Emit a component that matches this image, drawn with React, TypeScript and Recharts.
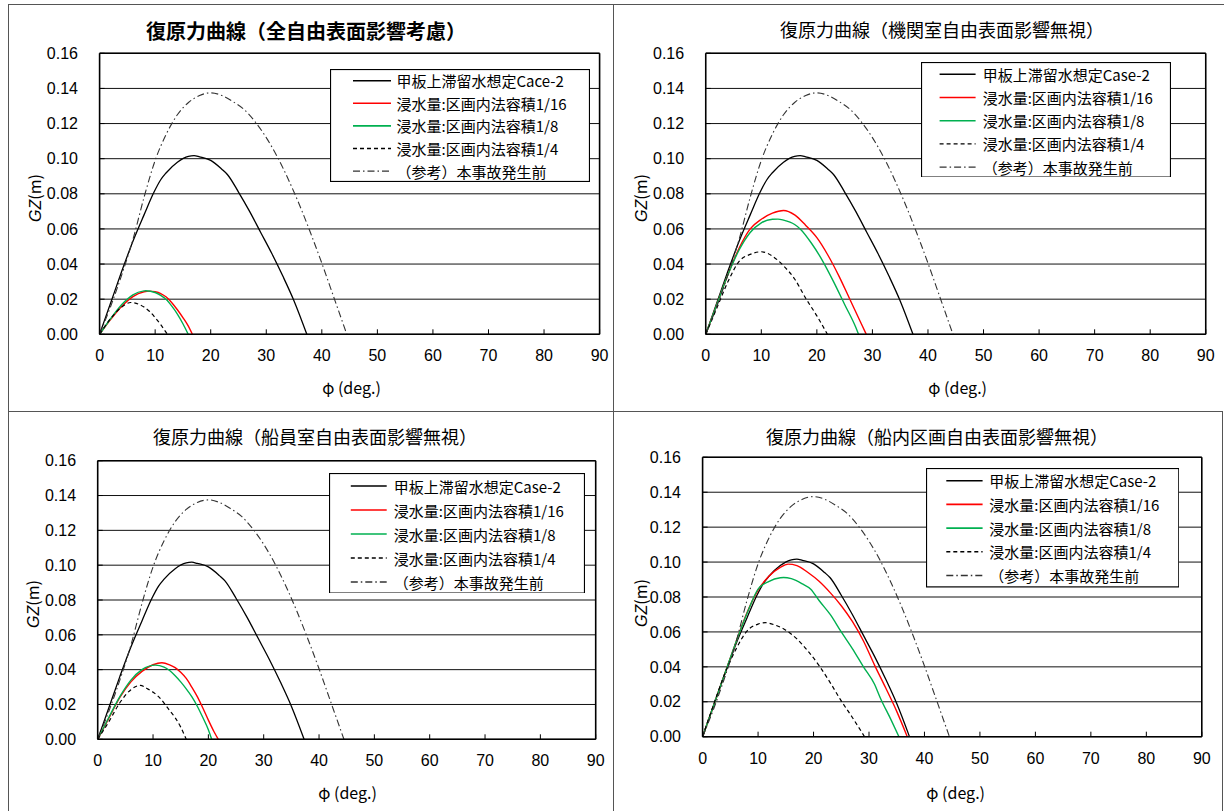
import React from 'react';
import { LineChart, Line, XAxis, YAxis, CartesianGrid, Legend, ReferenceLine } from 'recharts';

// ---------- axis ticks ----------
const xTicks = [0, 10, 20, 30, 40, 50, 60, 70, 80, 90];
const yTicks = [0, 0.02, 0.04, 0.06, 0.08, 0.1, 0.12, 0.14, 0.16];

// ---------- titles & legend labels ----------
const titles = [
  '復原力曲線（全自由表面影響考慮）',
  '復原力曲線（機関室自由表面影響無視）',
  '復原力曲線（船員室自由表面影響無視）',
  '復原力曲線（船内区画自由表面影響無視）',
];
const legendLabelsFirst = ['甲板上滞留水想定Cace-2', '浸水量:区画内法容積1/16', '浸水量:区画内法容積1/8', '浸水量:区画内法容積1/4', '（参考）本事故発生前'];
const legendLabelsOther = ['甲板上滞留水想定Case-2', '浸水量:区画内法容積1/16', '浸水量:区画内法容積1/8', '浸水量:区画内法容積1/4', '（参考）本事故発生前'];

// ---------- common series ----------
const case2Phi = [0, 2, 4, 6, 8, 9.8, 11, 12, 14, 16, 17, 18, 20, 22, 23, 25, 27, 29, 31, 33, 35, 37.3];
const case2GZ = [0, 0.018, 0.036, 0.053, 0.068, 0.081, 0.088, 0.092, 0.098, 0.1013, 0.1017, 0.101, 0.099, 0.094, 0.091, 0.081, 0.07, 0.058, 0.046, 0.033, 0.019, 0];

const refPhi = [0, 2, 4, 6, 8, 10, 12, 14, 16, 18, 20, 22, 24, 26, 28, 30, 32, 34, 36, 38, 40, 42, 43, 44.5];
const refGZ = [0, 0.016, 0.034, 0.054, 0.078, 0.099, 0.114, 0.125, 0.132, 0.136, 0.1375, 0.136, 0.1325, 0.128, 0.121, 0.112, 0.101, 0.088, 0.0735, 0.0575, 0.0405, 0.0225, 0.0135, 0];

// ---------- panel 1: 全自由表面影響考慮 ----------
const p1R16Phi = [0, 2, 4, 6, 8, 9, 10, 11, 12, 13, 14, 15, 16, 16.7];
const p1R16GZ = [0, 0.0085, 0.016, 0.0215, 0.0242, 0.0246, 0.0242, 0.0232, 0.0212, 0.018, 0.014, 0.0095, 0.0045, 0];
const p1G8Phi = [0, 2, 4, 6, 8, 8.3, 10, 11, 12, 13, 14, 15, 15.95];
const p1G8GZ = [0, 0.009, 0.017, 0.0225, 0.0247, 0.0248, 0.0238, 0.0222, 0.0198, 0.016, 0.0115, 0.006, 0];
const p1D4Phi = [0, 2, 4, 5.6, 7, 8, 9, 10, 11, 12.2];
const p1D4GZ = [0, 0.009, 0.0155, 0.0181, 0.0172, 0.0155, 0.013, 0.0095, 0.0055, 0];

// ---------- panel 2: 機関室自由表面影響無視 ----------
const p2R16Phi = [0, 2, 4, 6, 8, 10, 12, 14, 16, 18, 20, 22, 24, 26, 28, 28.9];
const p2R16GZ = [0, 0.017, 0.034, 0.049, 0.06, 0.0655, 0.069, 0.0705, 0.068, 0.062, 0.055, 0.045, 0.033, 0.0195, 0.006, 0];
const p2G8Phi = [0, 2, 4, 6, 8, 10, 12, 13, 14, 16, 17, 19, 21, 23, 25, 27, 27.5];
const p2G8GZ = [0, 0.017, 0.034, 0.048, 0.058, 0.0635, 0.0655, 0.0656, 0.065, 0.0625, 0.06, 0.052, 0.042, 0.03, 0.017, 0.004, 0];
const p2D4Phi = [0, 2, 4, 6, 8, 10, 12, 14, 16, 18, 20, 21.9];
const p2D4GZ = [0, 0.015, 0.03, 0.0415, 0.0455, 0.047, 0.0445, 0.039, 0.0315, 0.0205, 0.0105, 0];

// ---------- panel 3: 船員室自由表面影響無視 ----------
const p3R16Phi = [0, 2, 4, 6, 8, 10, 11.6, 13, 14, 15, 16, 17, 18, 19, 20, 21, 21.8];
const p3R16GZ = [0, 0.012, 0.024, 0.033, 0.039, 0.0428, 0.044, 0.0428, 0.0412, 0.0385, 0.035, 0.03, 0.0245, 0.018, 0.011, 0.0045, 0];
const p3G8Phi = [0, 2, 4, 6, 8, 10.4, 12, 13, 14, 15, 16, 17, 18, 19, 20, 20.6];
const p3G8GZ = [0, 0.0125, 0.0245, 0.034, 0.04, 0.0426, 0.0415, 0.0395, 0.0365, 0.033, 0.029, 0.0245, 0.019, 0.0125, 0.0055, 0];
const p3D4Phi = [0, 2, 4, 6, 7.7, 9, 11, 13, 14, 15, 16];
const p3D4GZ = [0, 0.01, 0.021, 0.0285, 0.031, 0.029, 0.0245, 0.0165, 0.0124, 0.007, 0];

// ---------- panel 4: 船内区画自由表面影響無視 ----------
const p4R16Phi = [0, 2, 4, 6, 8, 10, 12, 14, 15.4, 17, 19, 21, 23, 25, 27, 29, 31, 33, 35, 36.9];
const p4R16GZ = [0, 0.018, 0.036, 0.054, 0.071, 0.084, 0.092, 0.097, 0.0988, 0.098, 0.094, 0.089, 0.0825, 0.075, 0.066, 0.0548, 0.041, 0.028, 0.0145, 0];
const p4G8Phi = [0, 2, 4, 6, 8, 10, 12, 14, 14.6, 16, 18, 19.5, 21, 23, 25, 27, 29, 31, 32, 34, 35.4];
const p4G8GZ = [0, 0.018, 0.036, 0.054, 0.0705, 0.0845, 0.089, 0.091, 0.0912, 0.0905, 0.0875, 0.0845, 0.078, 0.07, 0.06, 0.0505, 0.04, 0.03, 0.0225, 0.0095, 0];
const p4D4Phi = [0, 2, 4, 6, 8, 10, 11.3, 13, 15, 17, 19, 21, 23, 25, 27, 29.2];
const p4D4GZ = [0, 0.0185, 0.036, 0.05, 0.0605, 0.0645, 0.0653, 0.064, 0.061, 0.056, 0.049, 0.0407, 0.031, 0.0205, 0.011, 0];

// ---------- helpers ----------
const toPts = (phi: number[], gz: number[]) => phi.map((p, i) => ({ phi: p, gz: gz[i] }));

const STYLES = [
  { color: '#000000', width: 1.3, dash: undefined as string | undefined },
  { color: '#ff0000', width: 1.4, dash: undefined },
  { color: '#00b050', width: 1.4, dash: undefined },
  { color: '#000000', width: 1.2, dash: '4 3' },
  { color: '#333333', width: 1.1, dash: '7 3 1.5 3' },
];

const CJK = '"Noto Sans CJK JP", "Noto Sans", sans-serif';
const NUM = '"Liberation Sans", Arial, sans-serif';

const W = 611;
const H = 400;

const panels = [
  {
    cx: 8, cy: 4, L: 99.6, T: 53.3, R: 599.6, B: 334.3,
    series: [toPts(case2Phi, case2GZ), toPts(p1R16Phi, p1R16GZ), toPts(p1G8Phi, p1G8GZ), toPts(p1D4Phi, p1D4GZ), toPts(refPhi, refGZ)],
    labels: legendLabelsFirst,
    legend: { x: 330, y: 69, w: 260, h: 113, row0: 11.7, gap: 22.6, lx0: 23, lx1: 61, tx: 66.5 },
    title: { x: 306, y: 31, size: 20, bold: true },
    xl: { x: 351.5, y: 387 }, yl: { x: 35, y: 197 },
  },
  {
    cx: 613, cy: 4, L: 705.75, T: 53.3, R: 1205.75, B: 334.3,
    series: [toPts(case2Phi, case2GZ), toPts(p2R16Phi, p2R16GZ), toPts(p2G8Phi, p2G8GZ), toPts(p2D4Phi, p2D4GZ), toPts(refPhi, refGZ)],
    labels: legendLabelsOther,
    legend: { x: 920.6, y: 61.7, w: 250, h: 115.6, row0: 12.3, gap: 23.2, lx0: 18.6, lx1: 54.6, tx: 61.7 },
    title: { x: 942, y: 30, size: 18, bold: false },
    xl: { x: 957.7, y: 386.7 }, yl: { x: 641.3, y: 196.7 },
  },
  {
    cx: 8, cy: 411, L: 97.7, T: 460.7, R: 595.7, B: 739.3,
    series: [toPts(case2Phi, case2GZ), toPts(p3R16Phi, p3R16GZ), toPts(p3G8Phi, p3G8GZ), toPts(p3D4Phi, p3D4GZ), toPts(refPhi, refGZ)],
    labels: legendLabelsOther,
    legend: { x: 329, y: 472.7, w: 256, h: 120.6, row0: 13, gap: 24, lx0: 21.8, lx1: 57.7, tx: 64.75 },
    title: { x: 315, y: 436.7, size: 18, bold: false },
    xl: { x: 347.6, y: 792.3 }, yl: { x: 33.2, y: 603.3 },
  },
  {
    cx: 613, cy: 411, L: 702.6, T: 457.3, R: 1201.8, B: 736.7,
    series: [toPts(case2Phi, case2GZ), toPts(p4R16Phi, p4R16GZ), toPts(p4G8Phi, p4G8GZ), toPts(p4D4Phi, p4D4GZ), toPts(refPhi, refGZ)],
    labels: legendLabelsOther,
    legend: { x: 925.7, y: 468.3, w: 253.3, h: 119.4, row0: 12.7, gap: 23.7, lx0: 20.3, lx1: 56.6, tx: 63.3 },
    title: { x: 937, y: 436.7, size: 18, bold: false },
    xl: { x: 955.7, y: 792.3 }, yl: { x: 641.3, y: 601.7 },
  },
];

const YW = 60;
const XH = 40;
const TICK_FS = 16;

function Panel({ p }: { p: any }) {
  const margin = {
    left: p.L - p.cx - YW,
    top: p.T - p.cy,
    right: p.cx + W - p.R,
    bottom: p.cy + H - p.B - XH,
  };
  const lg = p.legend;
  const legendContent = () => (
    <svg width={lg.w} height={lg.h} style={{ display: 'block' }}>
      <rect x={0.5} y={0.5} width={lg.w - 1} height={lg.h - 1} fill="#ffffff" stroke="#000000" strokeWidth={1.2} />
      {STYLES.map((s, i) => {
        const y = lg.row0 + i * lg.gap;
        return (
          <g key={i}>
            <line x1={lg.lx0} x2={lg.lx1} y1={y} y2={y} stroke={s.color} strokeWidth={s.width + 0.2} strokeDasharray={s.dash} />
            <text x={lg.tx} y={y} dominantBaseline="central" fontSize={15} fontFamily={CJK} fill="#000">
              {p.labels[i]}
            </text>
          </g>
        );
      })}
    </svg>
  );
  return (
    <div style={{ position: 'absolute', left: p.cx, top: p.cy, width: W, height: H }}>
      <LineChart width={W} height={H} margin={margin}>
        <CartesianGrid vertical={false} stroke="#111" strokeWidth={1} />
        <XAxis
          dataKey="phi"
          type="number"
          domain={[0, 90]}
          ticks={xTicks}
          interval={0}
          height={XH}
          axisLine={{ stroke: '#000', strokeWidth: 1.6 }}
          tickLine={{ stroke: '#000' }}
          tickSize={-5}
          tickMargin={20.6}
          tick={{ fill: '#000', fontSize: TICK_FS, fontFamily: NUM }}
        />
        <YAxis
          type="number"
          domain={[0, 0.16]}
          ticks={yTicks}
          interval={0}
          width={YW}
          allowDataOverflow
          tickFormatter={(v: number) => v.toFixed(2)}
          axisLine={{ stroke: '#000', strokeWidth: 1.6 }}
          tickLine={{ stroke: '#000' }}
          tickSize={-5}
          tickMargin={26.6}
          tick={{ fill: '#000', fontSize: TICK_FS, fontFamily: NUM }}
        />
        <ReferenceLine y={0.16} stroke="#000" strokeWidth={1.6} />
        <ReferenceLine x={90} stroke="#000" strokeWidth={1.6} />
        {p.series.map((d: any[], i: number) => (
          <Line
            key={i}
            data={d}
            dataKey="gz"
            name={p.labels[i]}
            type="monotone"
            stroke={STYLES[i].color}
            strokeWidth={STYLES[i].width}
            strokeDasharray={STYLES[i].dash}
            dot={false}
            activeDot={false}
            isAnimationActive={false}
          />
        ))}
        <Legend
          layout="horizontal"
          verticalAlign="middle"
          align="center"
          content={legendContent}
          wrapperStyle={{ left: lg.x - p.cx, top: lg.y - p.cy, width: lg.w, height: lg.h }}
        />
      </LineChart>
    </div>
  );
}

export default function App() {
  const line = (l: number, t: number, w: number, h: number, k: string) => (
    <div key={k} style={{ position: 'absolute', left: l, top: t, width: w, height: h, background: '#555' }} />
  );
  return (
    <div style={{ position: 'absolute', left: 0, top: 0, width: 1224, height: 811, background: '#fff', overflow: 'hidden' }}>
      {panels.map((p, i) => (
        <Panel key={i} p={p} />
      ))}
      {panels.map((p, i) => (
        <div
          key={'t' + i}
          style={{
            position: 'absolute',
            left: p.title.x - 250,
            width: 500,
            top: p.title.y - p.title.size * 0.72,
            textAlign: 'center',
            fontFamily: CJK,
            fontSize: p.title.size,
            fontWeight: p.title.bold ? 700 : 400,
            lineHeight: 1.4 + 'em',
            whiteSpace: 'nowrap',
            color: '#000',
          }}
        >
          {titles[i]}
        </div>
      ))}
      {panels.map((p, i) => (
        <div
          key={'x' + i}
          style={{
            position: 'absolute',
            left: p.xl.x - 60,
            width: 120,
            top: p.xl.y - 11,
            textAlign: 'center',
            fontFamily: CJK,
            fontSize: 16,
            lineHeight: '22px',
            whiteSpace: 'nowrap',
            color: '#000',
          }}
        >
          φ (deg.)
        </div>
      ))}
      {panels.map((p, i) => (
        <div
          key={'y' + i}
          style={{
            position: 'absolute',
            left: p.yl.x - 40,
            width: 80,
            top: p.yl.y - 11,
            textAlign: 'center',
            fontFamily: CJK,
            fontSize: 16,
            lineHeight: '22px',
            whiteSpace: 'nowrap',
            color: '#000',
            transform: 'rotate(-90deg)',
          }}
        >
          <i style={{ fontFamily: NUM }}>GZ</i>(m)
        </div>
      ))}
      {line(8, 4, 1216, 1, 'b1')}
      {line(8, 4, 1, 807, 'b2')}
      {line(613, 4, 1, 807, 'b3')}
      {line(8, 411, 1214, 1, 'b4')}
      {line(1222, 411, 1, 400, 'b5')}
    </div>
  );
}
